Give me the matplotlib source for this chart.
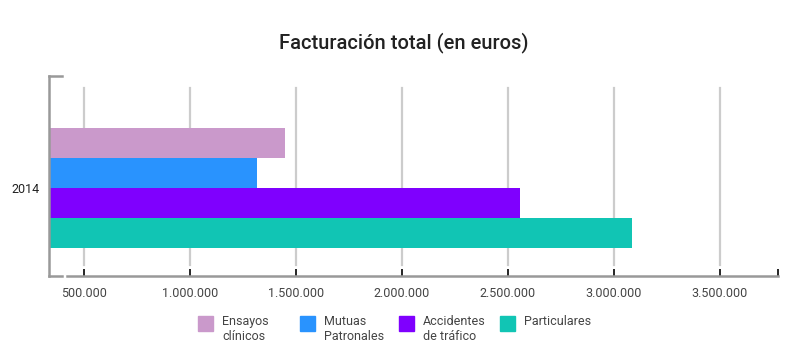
import matplotlib.pyplot as plt
import matplotlib.ticker as mticker
from matplotlib.lines import Line2D
from matplotlib.patches import Rectangle

plt.rcParams['font.family'] = ['Roboto', 'DejaVu Sans']

# data
year = '2014'
series = ['Ensayos\nclínicos', 'Mutuas\nPatronales', 'Accidentes\nde tráfico', 'Particulares']
values = [1450000, 1318000, 2560000, 3084000]
colors = ['#CA99CB', '#2993FE', '#7F00FE', '#11C5B4']
ticks = [500000, 1000000, 1500000, 2000000, 2500000, 3000000, 3500000]
xmin, xmax = 336000, 3775000

W, H = 805, 350
fig = plt.figure(figsize=(W / 100, H / 100), dpi=100)
ax = fig.add_axes([49 / W, (H - 276) / H, (778 - 49) / W, 200 / H])

ypos = list(range(len(series)))
ax.barh(ypos, values, height=1.0, left=0, color=colors, zorder=2)
ax.set_xlim(xmin, xmax)
ax.set_ylim(4.433, -2.233)

# gridlines
for t in ticks:
    ax.axvline(t, ymin=0.055, ymax=0.94, color='#cccccc', lw=1.6, zorder=1)

for s in ax.spines.values():
    s.set_visible(False)

# tick labels
fmt = mticker.FuncFormatter(lambda v, p: '' if v > 3600000 else f'{int(v):,}'.replace(',', '.'))
ax.set_xticks(ticks + [xmax])
ax.xaxis.set_major_formatter(fmt)
ax.tick_params(axis='x', direction='in', length=5, width=1.2, color='black',
               labelsize=9, labelcolor='#444444', pad=8)
ax.set_yticks([1.5])
ax.set_yticklabels([year])
ax.tick_params(axis='y', length=0, labelsize=9, labelcolor='#222222', pad=6.5)

# axis lines (bottom line + left bracket)
gray = '#999999'
fig.add_artist(Line2D([67 / W, 778 / W], [(H - 276) / H] * 2, color=gray, lw=1.8))
fig.add_artist(Line2D([49 / W, 49 / W], [(H - 76) / H, (H - 276) / H], color=gray, lw=1.8))
fig.add_artist(Line2D([49 / W, 62 / W], [(H - 76) / H] * 2, color=gray, lw=1.8))
fig.add_artist(Line2D([49 / W, 62 / W], [(H - 276) / H] * 2, color=gray, lw=1.8))

fig.text(404 / W, 1 - 43 / H, 'Facturación total (en euros)', ha='center', va='center',
         fontsize=14.5, fontweight='medium', color='#222222')

# legend
leg_x = [198, 300, 399, 500]
for x, name, c in zip(leg_x, series, colors):
    fig.add_artist(Rectangle((x / W, 1 - 331 / H), 15 / W, 15 / H, color=c,
                             transform=fig.transFigure))
    fig.text((x + 24) / W, 1 - 315 / H, name, ha='left', va='top', fontsize=9,
             color='#444444', linespacing=1.25)

fig.savefig('out.png', dpi=100)
